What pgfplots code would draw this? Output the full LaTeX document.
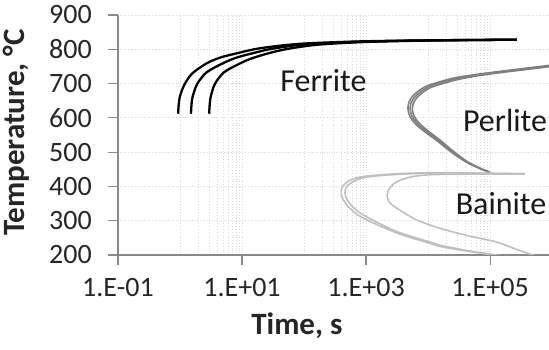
\documentclass[border=0pt]{standalone}
\usepackage{fontspec}
\setmainfont{Carlito}
\usepackage{pgfplots}
\pgfplotsset{compat=1.18}
\definecolor{axgray}{HTML}{898989}
\definecolor{gridgray}{HTML}{D8D8D8}
\definecolor{perl}{HTML}{808080}
\definecolor{bain}{HTML}{BFBFBF}
\begin{document}
\begin{tikzpicture}
\useasboundingbox (-118pt,-95pt) rectangle (431pt,255pt);
\begin{axis}[
  at={(0,0)}, anchor=south west,
  scale only axis, width=431pt, height=240pt,
  xmode=log, log basis x=10,
  xmin=0.1, xmax=8.9e5, ymin=200, ymax=900,
  axis lines*=left,
  axis line style={axgray, line width=1.2pt},
  every tick/.style={axgray, line width=1.2pt},
  tick align=outside, major tick length=10pt, minor tick length=0pt,
  xtick={1e-1,1e1,1e3,1e5},
  xticklabels={1.E-01,1.E+01,1.E+03,1.E+05},
  minor xtick={1,2,3,4,5,6,7,8,9,10,100,200,300,400,500,600,700,800,900,1000,1e4,2e4,3e4,4e4,5e4,6e4,7e4,8e4,9e4,1e5},
  ytick={200,300,400,500,600,700,800,900},
  xminorgrids=true, xmajorgrids=false, ymajorgrids=true,
  grid style={gridgray, dotted, line width=0.8pt},
  minor grid style={gridgray, dotted, line width=0.8pt},
  /pgf/number format/assume math mode=true,
  tick label style={font=\fontsize{28}{30}\selectfont, text=black!85},
  yticklabel style={inner sep=0pt, xshift=-16pt},
  xticklabel style={inner sep=0pt, yshift=-13pt},
  xlabel={Time, s}, ylabel={Temperature, °C},
  label style={font=\fontsize{31}{33}\selectfont\bfseries, text=black!85},
  xlabel style={at={(axis description cs:0.415,-0.296)}, anchor=center},
  ylabel style={at={(axis description cs:-0.235,0.51)}, anchor=center},
  clip=true,
]
% Ferrite
\addplot[black, line width=2.3pt, smooth] coordinates {(0.933,612) (0.944,630) (0.977,655) (1.047,675) (1.202,700) (1.585,730) (2.69,759) (4.47,776) (8.13,788) (19.5,803) (87.1,816) (794,823) (1e4,826) (2.69e5,828)};
\addplot[black, line width=2.3pt, smooth] coordinates {(1.503,612) (1.52,630) (1.567,655) (1.679,675) (1.905,700) (2.69,733) (4.90,759) (7.94,775) (14.45,788) (31.6,802) (112,815) (794,822) (1e4,826) (2.69e5,828)};
\addplot[black, line width=2.3pt, smooth] coordinates {(2.95,612) (2.985,630) (3.076,655) (3.27,675) (3.67,700) (5.13,733) (9.33,759) (14.1,773) (25.1,787) (50.1,800) (158,813) (891,821) (1e4,825.5) (2.69e5,828)};
% Perlite
\addplot[perl, line width=1.6pt, smooth] coordinates {(8.91e5,753) (1e5,732) (2.917e4,718) (1.462e4,704) (9226,692) (6839,677) (5559,662) (4898,645) (4732,628) (4898,612) (5433,596) (6531,579) (9226,557) (1.445e4,531) (2.371e4,500) (4.027e4,472) (6.457e4,454) (1e5,440)};
\addplot[perl, line width=1.6pt, smooth] coordinates {(8.91e5,751) (1e5,730) (3.162e4,716) (1.585e4,702) (1e4,690) (7413,675) (6026,660) (5309,643) (5129,628) (5309,612) (5888,596) (7079,579) (1e4,557) (1.549e4,531) (2.512e4,500) (4.169e4,472) (6.607e4,454) (1e5,440)};
\addplot[perl, line width=1.6pt, smooth] coordinates {(8.91e5,749) (1e5,728) (3.428e4,714) (1.718e4,700) (1.084e4,688) (8035,673) (6531,658) (5754,641) (5559,628) (5754,612) (6383,596) (7674,579) (1.084e4,557) (1.66e4,531) (2.661e4,500) (4.315e4,472) (6.761e4,454) (1e5,441)};
% Bainite
\addplot[bain, line width=1.6pt, smooth] coordinates {(3.63e5,437) (1.549e4,440) (3162,437) (912,429) (550,418) (417,400) (398,385) (417,365) (550,336) (912,307) (3162,264) (1.072e4,234) (1.549e4,225) (3.98e4,212) (1.122e5,200) (2.0e5,193)};
\addplot[bain, line width=1.6pt, smooth] coordinates {(3.63e5,437) (1.549e4,439) (3162,435) (1000,427) (631,415) (479,398) (457,380) (490,362) (631,338) (1000,312) (3162,268) (1.072e4,238) (1.549e4,229) (3.98e4,214) (1.259e5,200) (2.0e5,195)};
\addplot[bain, line width=1.6pt, smooth] coordinates {(3.63e5,436) (1.549e4,435) (5754,429) (3162,414) (2399,395) (2188,375) (2344,355) (3162,336) (6607,302) (1.549e4,278) (3.98e4,258) (1.259e5,238) (2.51e5,218) (4.47e5,202) (7.94e5,190)};
\node[font=\fontsize{32}{34}\selectfont, text=black!90] at (axis cs:205,708) {Ferrite};
\node[font=\fontsize{32}{34}\selectfont, text=black!90] at (axis cs:1.74e5,591) {Perlite};
\node[font=\fontsize{32}{34}\selectfont, text=black!90] at (axis cs:1.5e5,350) {Bainite};
\end{axis}
\end{tikzpicture}
\end{document}
